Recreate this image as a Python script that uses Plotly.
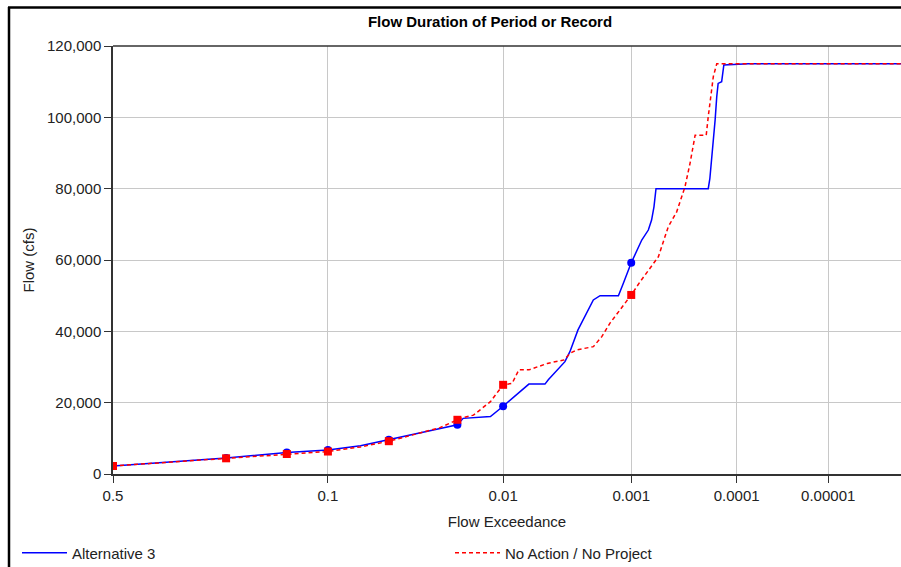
from statistics import NormalDist
import plotly.graph_objects as go

# Exceedance probabilities and flows (cfs) for each alternative
alt3_prob = [0.5, 0.25, 0.15, 0.1, 0.07, 0.05, 0.0336, 0.0256, 0.02, 0.0184, 0.0122, 0.01,
             0.00657, 0.0050, 0.00472, 0.00352, 0.00322, 0.00278, 0.00252, 0.00209, 0.00184,
             0.00129, 0.00117, 0.00106, 0.001, 0.000808, 0.000706, 0.00066, 0.000628, 0.000602,
             0.000193, 0.000186, 0.000175, 0.000165, 0.000159, 0.000154, 0.000142, 0.000135,
             0.0000759, 0.000001]
alt3_flow = [2250, 4500, 6000, 6700, 7900, 9600, 11400, 12600, 13800, 15600, 16100, 19000,
             25200, 25200, 26400, 31500, 34300, 40400, 43200, 48800, 50000,
             50000, 53500, 57200, 59200, 65600, 68400, 71200, 74900, 80000,
             80000, 82900, 90800, 99300, 105800, 109500, 110000, 114700,
             115000, 115000]

noact_prob = [0.5, 0.25, 0.15, 0.1, 0.07, 0.05, 0.0336, 0.0256, 0.02, 0.0192, 0.0158, 0.0122,
              0.01, 0.00866, 0.00776, 0.00657, 0.0048, 0.00357, 0.00322, 0.00285, 0.00209,
              0.00178, 0.00152, 0.00125, 0.001, 0.000836, 0.000637, 0.000573, 0.000465,
              0.000388, 0.000324, 0.00029, 0.000259, 0.000202, 0.000193, 0.000183, 0.000172,
              0.000159, 0.000001]
noact_flow = [2250, 4400, 5600, 6300, 7600, 9200, 11500, 13000, 15200, 15600, 16500, 20300,
              25000, 25400, 29200, 29200, 31000, 32000, 33800, 34800, 35700,
              38500, 42300, 46000, 50200, 53900, 59100, 60900, 69300,
              73500, 80500, 87100, 95000, 95000, 100200, 104900, 111400,
              115000, 115000]

# Highlighted frequencies
mark_prob = [0.5, 0.25, 0.15, 0.1, 0.05, 0.02, 0.01, 0.001]
alt3_mark_flow = [2250, 4500, 6000, 6700, 9600, 13800, 19000, 59200]
noact_mark_flow = [2250, 4400, 5600, 6300, 9200, 15200, 25000, 50200]

# Probability axis ticks
tick_prob = [0.5, 0.1, 0.01, 0.001, 0.0001, 0.00001]
tick_text = ["0.5", "0.1", "0.01", "0.001", "0.0001", "0.00001"]
y_ticks = [0, 20000, 40000, 60000, 80000, 100000, 120000]

ND = NormalDist()


def z(p):
    """Standard normal deviate for an exceedance probability."""
    return [ND.inv_cdf(1.0 - v) for v in p]


FONT = "Liberation Sans, Arial, sans-serif"
BLUE = "#0000ff"
RED = "#ff0000"

fig = go.Figure()
fig.add_trace(go.Scatter(x=z(alt3_prob), y=alt3_flow, mode="lines", name="Alternative 3",
                         legend="legend",
                         line=dict(color=BLUE, width=1.5)))
fig.add_trace(go.Scatter(x=z(mark_prob), y=alt3_mark_flow, mode="markers", showlegend=False,
                         marker=dict(color=BLUE, size=8, symbol="circle")))
fig.add_trace(go.Scatter(x=z(noact_prob), y=noact_flow, mode="lines", name="No Action / No Project",
                         legend="legend2",
                         line=dict(color=RED, width=1.5, dash="4px,3px")))
fig.add_trace(go.Scatter(x=z(mark_prob), y=noact_mark_flow, mode="markers", showlegend=False,
                         marker=dict(color=RED, size=8, symbol="square")))

W, H = 901, 567
L, R, T, B = 113, 0, 46, 93
pw, ph = W - L - R, H - T - B
px_per_z = 167.7


def paper_x(px):
    return (px - L) / pw


def paper_y(py):
    return (H - B - py) / ph


legend_style = dict(orientation="h", xanchor="left", yanchor="middle", y=paper_y(553),
                    font=dict(size=15), bgcolor="rgba(0,0,0,0)", itemwidth=45)

fig.update_layout(
    width=W, height=H,
    margin=dict(l=L, r=R, t=T, b=B, autoexpand=False),
    paper_bgcolor="white", plot_bgcolor="white",
    font=dict(family=FONT, size=15, color="#222222"),
    title=dict(text="<b>Flow Duration of Period or Record</b>", xref="paper", x=paper_x(490),
               xanchor="center", yref="container", y=1 - 22 / H, yanchor="middle",
               font=dict(family=FONT, size=15, color="#000000")),
    xaxis=dict(range=[0, pw / px_per_z], tickvals=z(tick_prob), ticktext=tick_text,
               showgrid=True, gridcolor="#c8c8c8", gridwidth=1, zeroline=False,
               showline=True, linecolor="#333333", linewidth=1.5,
               ticks="outside", ticklen=7, tickcolor="#333333", tickwidth=1,
               title=dict(text="Flow Exceedance", standoff=14, font=dict(size=15)),
               automargin=False),
    yaxis=dict(range=[0, 120000], tickvals=y_ticks, tickformat=",",
               showgrid=True, gridcolor="#c8c8c8", gridwidth=1, zeroline=False,
               showline=True, linecolor="#333333", linewidth=1.5,
               ticks="outside", ticklen=7, tickcolor="#333333", tickwidth=1,
               title=dict(text="Flow (cfs)", standoff=9, font=dict(size=15)),
               automargin=False),
    legend=dict(legend_style, x=paper_x(17)),
    legend2=dict(legend_style, x=paper_x(450)),
    shapes=[
        # plot frame top edge
        dict(type="line", xref="paper", yref="paper", x0=0, x1=1.01, y0=1, y1=1,
             line=dict(color="#333333", width=1.5)),
        # outer chart border (left and top)
        dict(type="line", xref="paper", yref="paper", x0=paper_x(9), x1=paper_x(9),
             y0=paper_y(7), y1=paper_y(570), line=dict(color="#000000", width=2.5)),
        dict(type="line", xref="paper", yref="paper", x0=paper_x(8), x1=paper_x(905),
             y0=paper_y(7.5), y1=paper_y(7.5), line=dict(color="#000000", width=2.5)),
    ],
)

fig.write_html("out.html")
